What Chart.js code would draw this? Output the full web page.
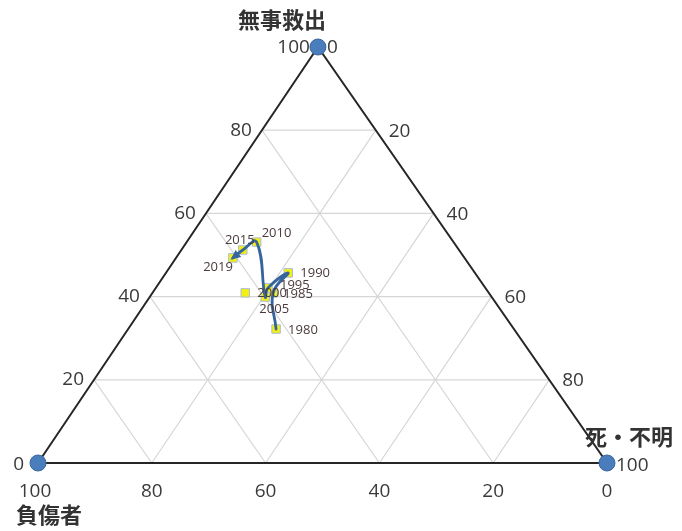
<!DOCTYPE html>
<html>
<head>
<meta charset="utf-8">
<script src="https://cdn.jsdelivr.net/npm/chart.js@4/dist/chart.umd.min.js"></script>
<style>
  html, body { margin: 0; padding: 0; background: #ffffff; }
  #wrap { width: 682px; height: 531px; }
</style>
</head>
<body>
<div id="wrap"><canvas id="c" width="682" height="531"></canvas></div>
<script>
// Shares (%) of people in each outcome, by year
const years   = ['1980', '1985', '1990', '1995', '2000', '2005', '2010', '2015', '2019'];
const rescued = [32.2, 40.9, 45.7, 42.1, 40.9, 39.9, 53.1, 51.2, 49.3]; // 無事救出
const injured = [41.8, 37.9, 32.8, 38.2, 42.8, 39.8, 34.6, 38.0, 40.7]; // 負傷者
const dead    = [26.0, 21.2, 21.5, 19.7, 16.3, 20.3, 12.3, 10.8, 10.0]; // 死・不明

// Years joined by the smoothed trend line (arrow at the last one)
const trendYears = ['1980', '1985', '1990', '1995', '2005', '2010', '2015', '2019'];

// Grid and tick values along each side
const gridTicks = [20, 40, 60, 80];
const sideTicks = [0, 20, 40, 60, 80, 100];

// Axis titles
const titleRescued = '無事救出';
const titleInjured = '負傷者';
const titleDead = '死・不明';

// Horizontal position of the apex, as a share of the base
const APEX_X = 49.2;

// Ternary (rescued, dead) -> plane coordinates for the linear scales
function toXY(r, d) {
  return { x: r * APEX_X / 100 + d, y: r };
}

const GRID_COLOR = '#d6d6d6';
const TEXT_COLOR = '#3a3a3a';
const NUM_FONT = '19px "Open Sans", Lato, sans-serif';
const LABEL_FONT = '13px "Open Sans", Lato, sans-serif';
const TITLE_FONT = 'bold 22px "Noto Sans CJK JP", sans-serif';

const datasets = [];

// Grid lines: constant rescued, constant injured, constant dead
gridTicks.forEach(k => {
  const segs = [
    [toXY(k, 0), toXY(k, 100 - k)],          // rescued = k
    [toXY(100 - k, 0), toXY(0, 100 - k)],    // injured = k
    [toXY(100 - k, k), toXY(0, k)]           // dead = k
  ];
  segs.forEach(s => datasets.push({
    data: s, showLine: true, borderColor: GRID_COLOR, borderWidth: 1.2,
    pointRadius: 0, clip: false, order: 6
  }));
});

// Triangle outline
datasets.push({
  data: [toXY(0, 0), toXY(100, 0), toXY(0, 100), toXY(0, 0)],
  showLine: true, borderColor: '#262626', borderWidth: 2,
  pointRadius: 0, clip: false, order: 5
});

// Yearly markers
datasets.push({
  data: years.map((y, i) => toXY(rescued[i], dead[i])),
  showLine: false, pointStyle: 'rect', pointRadius: 6,
  backgroundColor: '#f4ef12', borderColor: '#a9bddb', borderWidth: 1,
  clip: false, order: 4
});

// Smoothed trend line
const trendIdx = trendYears.map(y => years.indexOf(y));
datasets.push({
  data: trendIdx.map(i => toXY(rescued[i], dead[i])),
  showLine: true, tension: 0.45, borderColor: '#35659c', borderWidth: 2.8,
  pointRadius: 0, clip: false, order: 3
});

// Corner markers
datasets.push({
  data: [toXY(0, 0), toXY(100, 0), toXY(0, 100)],
  showLine: false, pointStyle: 'circle', pointRadius: 8,
  backgroundColor: '#4a7dbb', borderColor: '#3a679c', borderWidth: 1,
  clip: false, order: 1
});
const TREND_INDEX = datasets.length - 2;

// Placement of each year's label relative to its marker: [dx, dy, align]
const labelPlacement = {
  '1980': [12, 1, 'left'],
  '1985': [10, 1, 'left'],
  '1990': [12, 0, 'left'],
  '1995': [12, -3, 'left'],
  '2000': [12, 0, 'left'],
  '2005': [9, 12, 'center'],
  '2010': [5, -9, 'left'],
  '2015': [-3, -10, 'center'],
  '2019': [0, 9, 'right']
};

const ternaryText = {
  id: 'ternaryText',
  afterDatasetsDraw(chart) {
    const ctx = chart.ctx;
    const sx = chart.scales.x, sy = chart.scales.y;
    const px = p => [sx.getPixelForValue(p.x), sy.getPixelForValue(p.y)];

    // Arrow head at the end of the trend line
    const meta = chart.getDatasetMeta(TREND_INDEX);
    const pts = meta.data;
    const last = pts[pts.length - 1];
    let ax = last.cp1x, ay = last.cp1y;
    if (ax === undefined || (ax === last.x && ay === last.y)) { ax = pts[pts.length - 2].x; ay = pts[pts.length - 2].y; }
    const ang = Math.atan2(last.y - ay, last.x - ax);
    ctx.save();
    ctx.fillStyle = '#35659c';
    ctx.translate(last.x, last.y);
    ctx.rotate(ang);
    ctx.beginPath();
    ctx.moveTo(3, 0);
    ctx.lineTo(-7, -4.5);
    ctx.lineTo(-7, 4.5);
    ctx.closePath();
    ctx.fill();
    ctx.restore();

    ctx.save();
    ctx.textBaseline = 'middle';

    // Year labels
    ctx.font = LABEL_FONT;
    ctx.fillStyle = '#4a3a3a';
    years.forEach((yr, i) => {
      const [x, y] = px(toXY(rescued[i], dead[i]));
      const pl = labelPlacement[yr] || [10, 0, 'left'];
      ctx.textAlign = pl[2];
      ctx.fillText(yr, x + pl[0], y + pl[1]);
    });

    ctx.fillStyle = TEXT_COLOR;
    ctx.font = NUM_FONT;
    // Left side: rescued (0 at base, 100 at apex)
    sideTicks.forEach(k => {
      const [x, y] = px(toXY(k, 0));
      ctx.textAlign = 'right';
      if (k === 0) ctx.fillText(String(k), x - 14, y + 2);
      else if (k === 100) ctx.fillText(String(k), x - 8, y + 1);
      else ctx.fillText(String(k), x - 10, y);
    });
    // Right side: dead (0 at apex, 100 at base)
    sideTicks.forEach(k => {
      const [x, y] = px(toXY(100 - k, k));
      ctx.textAlign = 'left';
      if (k === 0) ctx.fillText(String(k), x + 9, y + 1);
      else if (k === 100) ctx.fillText(String(k), x + 9, y + 3);
      else ctx.fillText(String(k), x + 13, y + 1);
    });
    // Base: injured (100 at left, 0 at right)
    sideTicks.forEach(k => {
      const [x, y] = px(toXY(0, 100 - k));
      ctx.textAlign = 'center';
      ctx.fillText(String(k), x - (k === 100 ? 3 : 0), y + 29);
    });

    // Axis titles
    ctx.font = TITLE_FONT;
    ctx.fillStyle = '#333333';
    ctx.textAlign = 'center';
    const top = px(toXY(100, 0));
    ctx.fillText(titleRescued, top[0] - 36, top[1] - 27);
    const right = px(toXY(0, 100));
    ctx.fillText(titleDead, right[0] + 22, right[1] - 26);
    const left = px(toXY(0, 0));
    ctx.fillText(titleInjured, left[0] + 11, left[1] + 52);
    ctx.restore();
  }
};

new Chart(document.getElementById('c'), {
  type: 'scatter',
  data: { datasets },
  options: {
    responsive: false,
    animation: false,
    layout: { padding: { left: 38, right: 75, top: 47, bottom: 68 } },
    scales: {
      x: { type: 'linear', min: 0, max: 100, display: false },
      y: { type: 'linear', min: 0, max: 100, display: false }
    },
    plugins: { legend: { display: false }, tooltip: { enabled: false } },
    elements: { line: { borderCapStyle: 'round' } }
  },
  plugins: [ternaryText]
});
</script>
</body>
</html>
